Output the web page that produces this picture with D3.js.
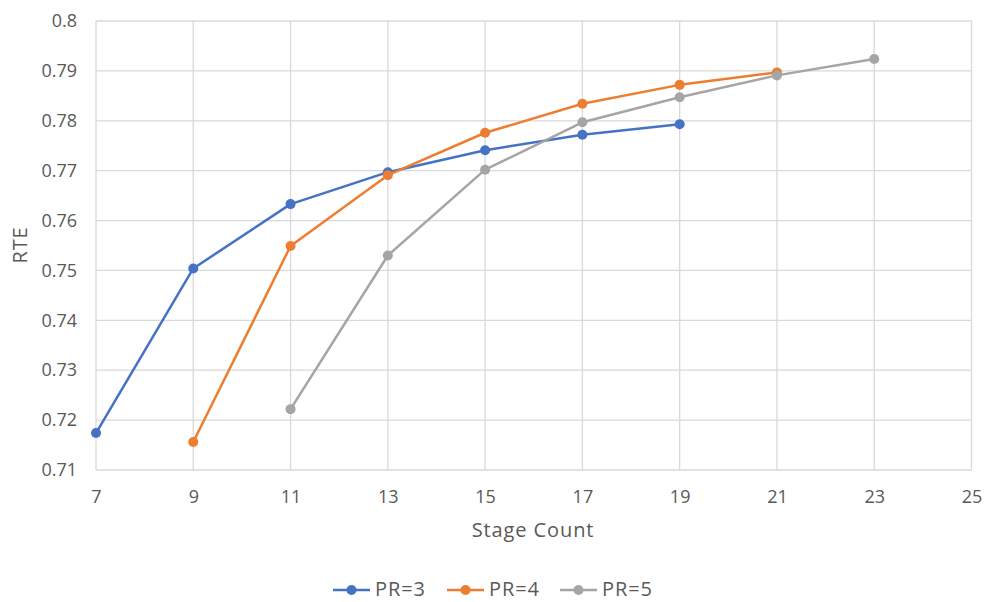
<!DOCTYPE html>
<html><head><meta charset="utf-8">
<script src="https://cdn.jsdelivr.net/npm/d3@7"></script>
<style>body{margin:0;background:#fff;font-family:"Open Sans",sans-serif;}</style>
</head><body>
<svg id="c" width="985" height="602"></svg>
<script>
const stages3 = [7, 9, 11, 13, 15, 17, 19];
const rte3 = [0.7174, 0.7504, 0.7633, 0.7697, 0.7741, 0.7772, 0.7793];
const stages4 = [9, 11, 13, 15, 17, 19, 21];
const rte4 = [0.7156, 0.7549, 0.7691, 0.7776, 0.7834, 0.7872, 0.7897];
const stages5 = [11, 13, 15, 17, 19, 21, 23];
const rte5 = [0.7222, 0.7530, 0.7702, 0.7797, 0.7847, 0.7891, 0.7924];
const seriesNames = ["PR=3", "PR=4", "PR=5"];
const colors = ["#4472C4", "#ED7D31", "#A5A5A5"];
const xTicks = [7, 9, 11, 13, 15, 17, 19, 21, 23, 25];
const yTicks = [0.71, 0.72, 0.73, 0.74, 0.75, 0.76, 0.77, 0.78, 0.79, 0.8];

const svg = d3.select("#c");
const x = d3.scaleLinear().domain([7, 25]).range([96, 971.5]);
const y = d3.scaleLinear().domain([0.71, 0.8]).range([470, 21]);

// gridlines
svg.append("g").selectAll("line").data(yTicks).join("line")
  .attr("x1", x(7)).attr("x2", x(25)).attr("y1", d => y(d)).attr("y2", d => y(d))
  .attr("stroke", "#d9d9d9").attr("stroke-width", 1.3);
svg.append("g").selectAll("line").data(xTicks).join("line")
  .attr("y1", y(0.71)).attr("y2", y(0.8)).attr("x1", d => x(d)).attr("x2", d => x(d))
  .attr("stroke", "#d9d9d9").attr("stroke-width", 1.3);

// axes labels
const xAxis = d3.axisBottom(x).tickValues(xTicks).tickSize(0).tickPadding(20).tickFormat(d3.format("d"));
const gx = svg.append("g").attr("transform", `translate(0,${y(0.71)})`).call(xAxis);
gx.select(".domain").remove();
gx.selectAll("text").attr("font-size", 18).attr("fill", "#595959").attr("font-family", "Open Sans, sans-serif");

const yAxis = d3.axisLeft(y).tickValues(yTicks).tickSize(0).tickPadding(19).tickFormat(d => d3.format("")(+d.toFixed(2)));
const gy = svg.append("g").attr("transform", `translate(${x(7)},0)`).call(yAxis);
gy.select(".domain").remove();
gy.selectAll("text").attr("font-size", 18).attr("fill", "#595959").attr("font-family", "Open Sans, sans-serif");

// axis titles
svg.append("text").attr("x", 533).attr("y", 537).attr("text-anchor", "middle")
  .attr("font-size", 20).attr("letter-spacing", 0.9).attr("fill", "#595959").text("Stage Count");
svg.append("text").attr("transform", "translate(27,245) rotate(-90)").attr("text-anchor", "middle")
  .attr("font-size", 20).attr("letter-spacing", 0.9).attr("fill", "#595959").text("RTE");

// series
const allSeries = [
  stages3.map((s, i) => [s, rte3[i]]),
  stages4.map((s, i) => [s, rte4[i]]),
  stages5.map((s, i) => [s, rte5[i]])
];
const line = d3.line().x(d => x(d[0])).y(d => y(d[1]));
allSeries.forEach((data, k) => {
  const g = svg.append("g");
  g.append("path").datum(data).attr("d", line).attr("fill", "none")
    .attr("stroke", colors[k]).attr("stroke-width", 2.5).attr("stroke-linejoin", "round");
  g.selectAll("circle").data(data).join("circle")
    .attr("cx", d => x(d[0])).attr("cy", d => y(d[1])).attr("r", 5)
    .attr("fill", colors[k]);
});

// legend
const legendX = [333, 447, 560];
seriesNames.forEach((name, k) => {
  const g = svg.append("g").attr("transform", `translate(${legendX[k]},590)`);
  g.append("line").attr("x1", 0).attr("x2", 37).attr("stroke", colors[k]).attr("stroke-width", 2.5);
  g.append("circle").attr("cx", 18.5).attr("r", 5).attr("fill", colors[k]);
  g.append("text").attr("x", 42).attr("y", 6).attr("font-size", 20).attr("letter-spacing", 0.9).attr("fill", "#595959").text(name);
});
</script>
</body></html>
